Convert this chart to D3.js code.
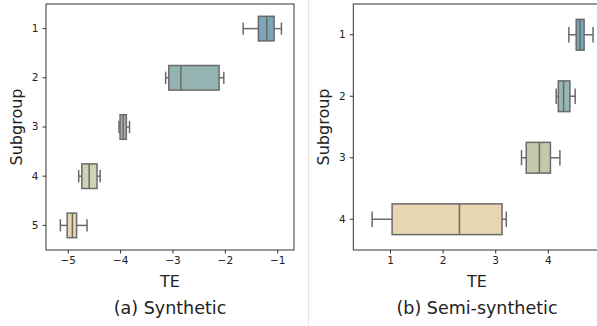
<!DOCTYPE html>
<html>
<head>
<meta charset="utf-8">
<script src="https://cdn.jsdelivr.net/npm/d3@7"></script>
<style>
  body { margin: 0; background: #fff; }
  text { font-family: "DejaVu Sans", sans-serif; fill: #222; }
</style>
</head>
<body>
<script>
// Synthetic panel (a)
var synthGroups = ["1", "2", "3", "4", "5"];
var synthLow    = [-1.65, -3.13, -4.02, -4.79, -5.14];
var synthQ1     = [-1.36, -3.07, -4.00, -4.73, -5.01];
var synthMedian = [-1.20, -2.84, -3.94, -4.59, -4.91];
var synthQ3     = [-1.06, -2.11, -3.88, -4.44, -4.83];
var synthHigh   = [-0.92, -2.02, -3.82, -4.38, -4.63];
var synthTicks  = [-5, -4, -3, -2, -1];

// Semi-synthetic panel (b)
var semiGroups = ["1", "2", "3", "4"];
var semiLow    = [4.40, 4.16, 3.50, 0.66];
var semiQ1     = [4.54, 4.20, 3.59, 1.04];
var semiMedian = [4.61, 4.30, 3.84, 2.32];
var semiQ3     = [4.69, 4.42, 4.05, 3.13];
var semiHigh   = [4.86, 4.52, 4.23, 3.21];
var semiTicks  = [1, 2, 3, 4];

var svg = d3.select("body").append("svg")
    .attr("width", 597)
    .attr("height", 326);

// faint separator between the two subfigures
svg.append("line").attr("x1", 308.5).attr("x2", 308.5).attr("y1", 0).attr("y2", 326)
    .attr("stroke", "#e4e4e4").attr("stroke-width", 1);

function drawPanel(opts) {
    var left = opts.left, top = 4, w = 248, h = 246;

    var x = d3.scaleLinear().domain(opts.domain).range([left, left + w]);
    var y = d3.scaleBand().domain(opts.groups).range([top, top + h]).padding(0);

    var rows = opts.groups.map(function(g, i) {
        return {
            group: g, low: opts.low[i], q1: opts.q1[i], med: opts.median[i],
            q3: opts.q3[i], high: opts.high[i], color: opts.colors[i]
        };
    });

    var boxH = y.bandwidth() * 0.5;
    var capH = boxH * 0.5;
    var edge = "#6a6a6a";

    var g = svg.append("g");

    rows.forEach(function(d) {
        var cy = y(d.group) + y.bandwidth() / 2;
        // whiskers
        g.append("line").attr("x1", x(d.low)).attr("x2", x(d.q1))
            .attr("y1", cy).attr("y2", cy).attr("stroke", edge).attr("stroke-width", 1.5);
        g.append("line").attr("x1", x(d.q3)).attr("x2", x(d.high))
            .attr("y1", cy).attr("y2", cy).attr("stroke", edge).attr("stroke-width", 1.5);
        // caps
        [d.low, d.high].forEach(function(v) {
            g.append("line").attr("x1", x(v)).attr("x2", x(v))
                .attr("y1", cy - capH / 2).attr("y2", cy + capH / 2)
                .attr("stroke", edge).attr("stroke-width", 1.5);
        });
        // box
        g.append("rect")
            .attr("x", x(d.q1)).attr("y", cy - boxH / 2)
            .attr("width", x(d.q3) - x(d.q1)).attr("height", boxH)
            .attr("fill", d.color).attr("stroke", edge).attr("stroke-width", 1.5);
        // median
        g.append("line").attr("x1", x(d.med)).attr("x2", x(d.med))
            .attr("y1", cy - boxH / 2).attr("y2", cy + boxH / 2)
            .attr("stroke", edge).attr("stroke-width", 1.5);
    });

    // axes
    var xAxis = g.append("g")
        .attr("transform", "translate(0," + (top + h) + ")")
        .call(d3.axisBottom(x).tickValues(opts.ticks).tickFormat(d3.format("d"))
            .tickSize(3.5).tickPadding(3));
    var yAxis = g.append("g")
        .attr("transform", "translate(" + left + ",0)")
        .call(d3.axisLeft(y).tickSize(3.5).tickPadding(4));

    [xAxis, yAxis].forEach(function(a) {
        a.select(".domain").remove();
        a.selectAll(".tick line").attr("stroke", "#333");
        a.selectAll(".tick text").style("font-size", "10.5px").style("font-family", "DejaVu Sans").attr("fill", "#333");
    });

    // frame
    g.append("rect").attr("x", left).attr("y", top).attr("width", w).attr("height", h)
        .attr("fill", "none").attr("stroke", "#333").attr("stroke-width", 1);

    // labels
    g.append("text").attr("x", opts.labelX).attr("y", 287)
        .attr("text-anchor", "middle").style("font-size", "16px").text("TE");
    g.append("text")
        .attr("transform", "translate(" + opts.ylabX + "," + (top + h / 2) + ") rotate(-90)")
        .attr("text-anchor", "middle").style("font-size", "16px").text("Subgroup");
    g.append("text").attr("x", opts.labelX).attr("y", 314)
        .attr("text-anchor", "middle").style("font-size", "17.5px").text(opts.caption);
}

drawPanel({
    left: 46, domain: [-5.414, -0.68], groups: synthGroups,
    low: synthLow, q1: synthQ1, median: synthMedian, q3: synthQ3, high: synthHigh,
    ticks: synthTicks,
    colors: ["#7aa6b8", "#94b4b1", "#a6b3a2", "#cfd3b4", "#e8d8ae"],
    labelX: 170, ylabX: 22, caption: "(a) Synthetic"
});

drawPanel({
    left: 353.3, domain: [0.302, 5.017], groups: semiGroups,
    low: semiLow, q1: semiQ1, median: semiMedian, q3: semiQ3, high: semiHigh,
    ticks: semiTicks,
    colors: ["#79a5b8", "#98b6b2", "#c3c9ab", "#e6d7b0"],
    labelX: 477, ylabX: 329, caption: "(b) Semi-synthetic"
});
</script>
</body>
</html>
